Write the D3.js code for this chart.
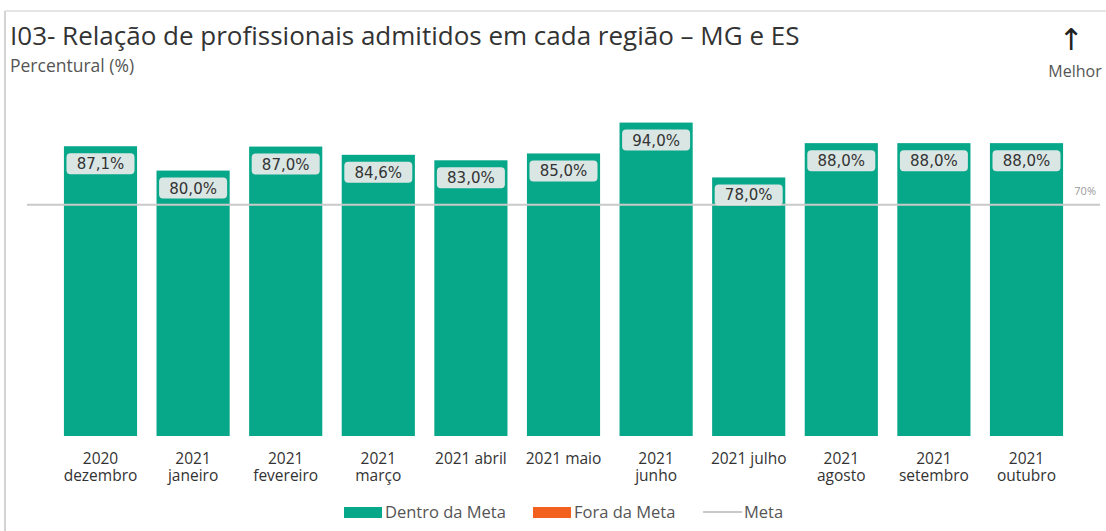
<!DOCTYPE html>
<html>
<head>
<meta charset="utf-8">
<script src="https://cdn.jsdelivr.net/npm/d3@7"></script>
<style>
  body { margin: 0; background: #fff; }
  svg { display: block; }
</style>
</head>
<body>
<div id="chart"></div>
<script>
// data
var months = [
  ['2020', 'dezembro'], ['2021', 'janeiro'], ['2021', 'fevereiro'], ['2021', 'março'],
  ['2021 abril'], ['2021 maio'], ['2021', 'junho'], ['2021 julho'],
  ['2021', 'agosto'], ['2021', 'setembro'], ['2021', 'outubro']
];
var values = [87.1, 80.0, 87.0, 84.6, 83.0, 85.0, 94.0, 78.0, 88.0, 88.0, 88.0];
var meta = 70;
var legendItems = ['Dentro da Meta', 'Fora da Meta', 'Meta'];

var W = 1106, H = 531;
var teal = '#07a78a', orange = '#f2621e', grey = '#c9c9c9';
var font = '"Open Sans", sans-serif';

var svg = d3.select('#chart').append('svg')
  .attr('width', W).attr('height', H);

// frame lines (top and left)
svg.append('line').attr('x1', 5).attr('x2', W).attr('y1', 11).attr('y2', 11)
  .attr('stroke', '#dcdcdc').attr('stroke-width', 1.5);
svg.append('line').attr('x1', 5).attr('x2', 5).attr('y1', 11).attr('y2', H)
  .attr('stroke', '#d4d4d4').attr('stroke-width', 2);

svg.append('text').attr('x', 10).attr('y', 45)
  .style('font-family', font).style('font-size', '26px').attr('fill', '#333')
  .text('I03- Relação de profissionais admitidos em cada região – MG e ES');
svg.append('text').attr('x', 10).attr('y', 72)
  .style('font-family', font).style('font-size', '17.5px').attr('fill', '#555')
  .text('Percentural (%)');

svg.append('text').attr('x', 1071).attr('y', 50).attr('text-anchor', 'middle')
  .style('font-family', '"DejaVu Sans", sans-serif').style('font-size', '30px').attr('fill', '#222')
  .text('↑');
svg.append('text').attr('x', 1075).attr('y', 77).attr('text-anchor', 'middle')
  .style('font-family', font).style('font-size', '16px').attr('fill', '#555')
  .text('Melhor');

var x = d3.scaleBand()
  .domain(d3.range(values.length))
  .range([54.2, 1072.8])
  .paddingInner(0.21)
  .paddingOuter(0.105);

var baseY = 436;
var y = d3.scaleLinear().domain([2.6, 100]).range([baseY, 102]);

var fmt = function(v) { return v.toFixed(1).replace('.', ',') + '%'; };

svg.selectAll('rect.bar').data(values).enter().append('rect')
  .attr('class', 'bar')
  .attr('x', function(d, i) { return x(i); })
  .attr('y', function(d) { return y(d); })
  .attr('width', x.bandwidth())
  .attr('height', function(d) { return baseY - y(d); })
  .attr('fill', teal);

// meta line
svg.append('line').attr('x1', 27).attr('x2', 1100)
  .attr('y1', y(meta)).attr('y2', y(meta))
  .attr('stroke', grey).attr('stroke-width', 2);
svg.append('text').attr('x', 1096).attr('y', y(meta) - 10).attr('text-anchor', 'end')
  .style('font-family', font).style('font-size', '11px').attr('fill', '#9a9a9a')
  .text(meta + '%');

// value labels
var lab = svg.selectAll('g.lab').data(values).enter().append('g')
  .attr('class', 'lab')
  .attr('transform', function(d, i) { return 'translate(' + (x(i) + x.bandwidth() / 2) + ',' + (y(d) + 7) + ')'; });
lab.append('rect')
  .attr('x', -34).attr('y', 0).attr('width', 68).attr('height', 21).attr('rx', 4)
  .attr('fill', '#e6e9e8').attr('fill-opacity', 0.95);
lab.append('text').attr('y', 16).attr('text-anchor', 'middle')
  .style('font-family', '"DejaVu Sans", sans-serif').style('font-size', '15px').attr('fill', '#333')
  .text(fmt);

// category labels, one text per line
months.forEach(function(lines, i) {
  svg.selectAll(null).data(lines).enter().append('text')
    .attr('x', x(i) + x.bandwidth() / 2)
    .attr('y', function(d, j) { return 464 + j * 17; })
    .attr('text-anchor', 'middle')
    .style('font-family', font).style('font-size', '15.5px').attr('fill', '#333')
    .text(function(d) { return d; });
});

// legend
var leg = svg.append('g').style('font-family', font).style('font-size', '16.5px').attr('fill', '#555');
leg.append('rect').attr('x', 344).attr('y', 507).attr('width', 38).attr('height', 11).attr('fill', teal);
leg.append('text').attr('x', 385).attr('y', 518).text(legendItems[0]);
leg.append('rect').attr('x', 533).attr('y', 507).attr('width', 38).attr('height', 11).attr('fill', orange);
leg.append('text').attr('x', 574).attr('y', 518).text(legendItems[1]);
leg.append('line').attr('x1', 703).attr('x2', 742).attr('y1', 512).attr('y2', 512)
  .attr('stroke', grey).attr('stroke-width', 2);
leg.append('text').attr('x', 744).attr('y', 518).text(legendItems[2]);
</script>
</body>
</html>
